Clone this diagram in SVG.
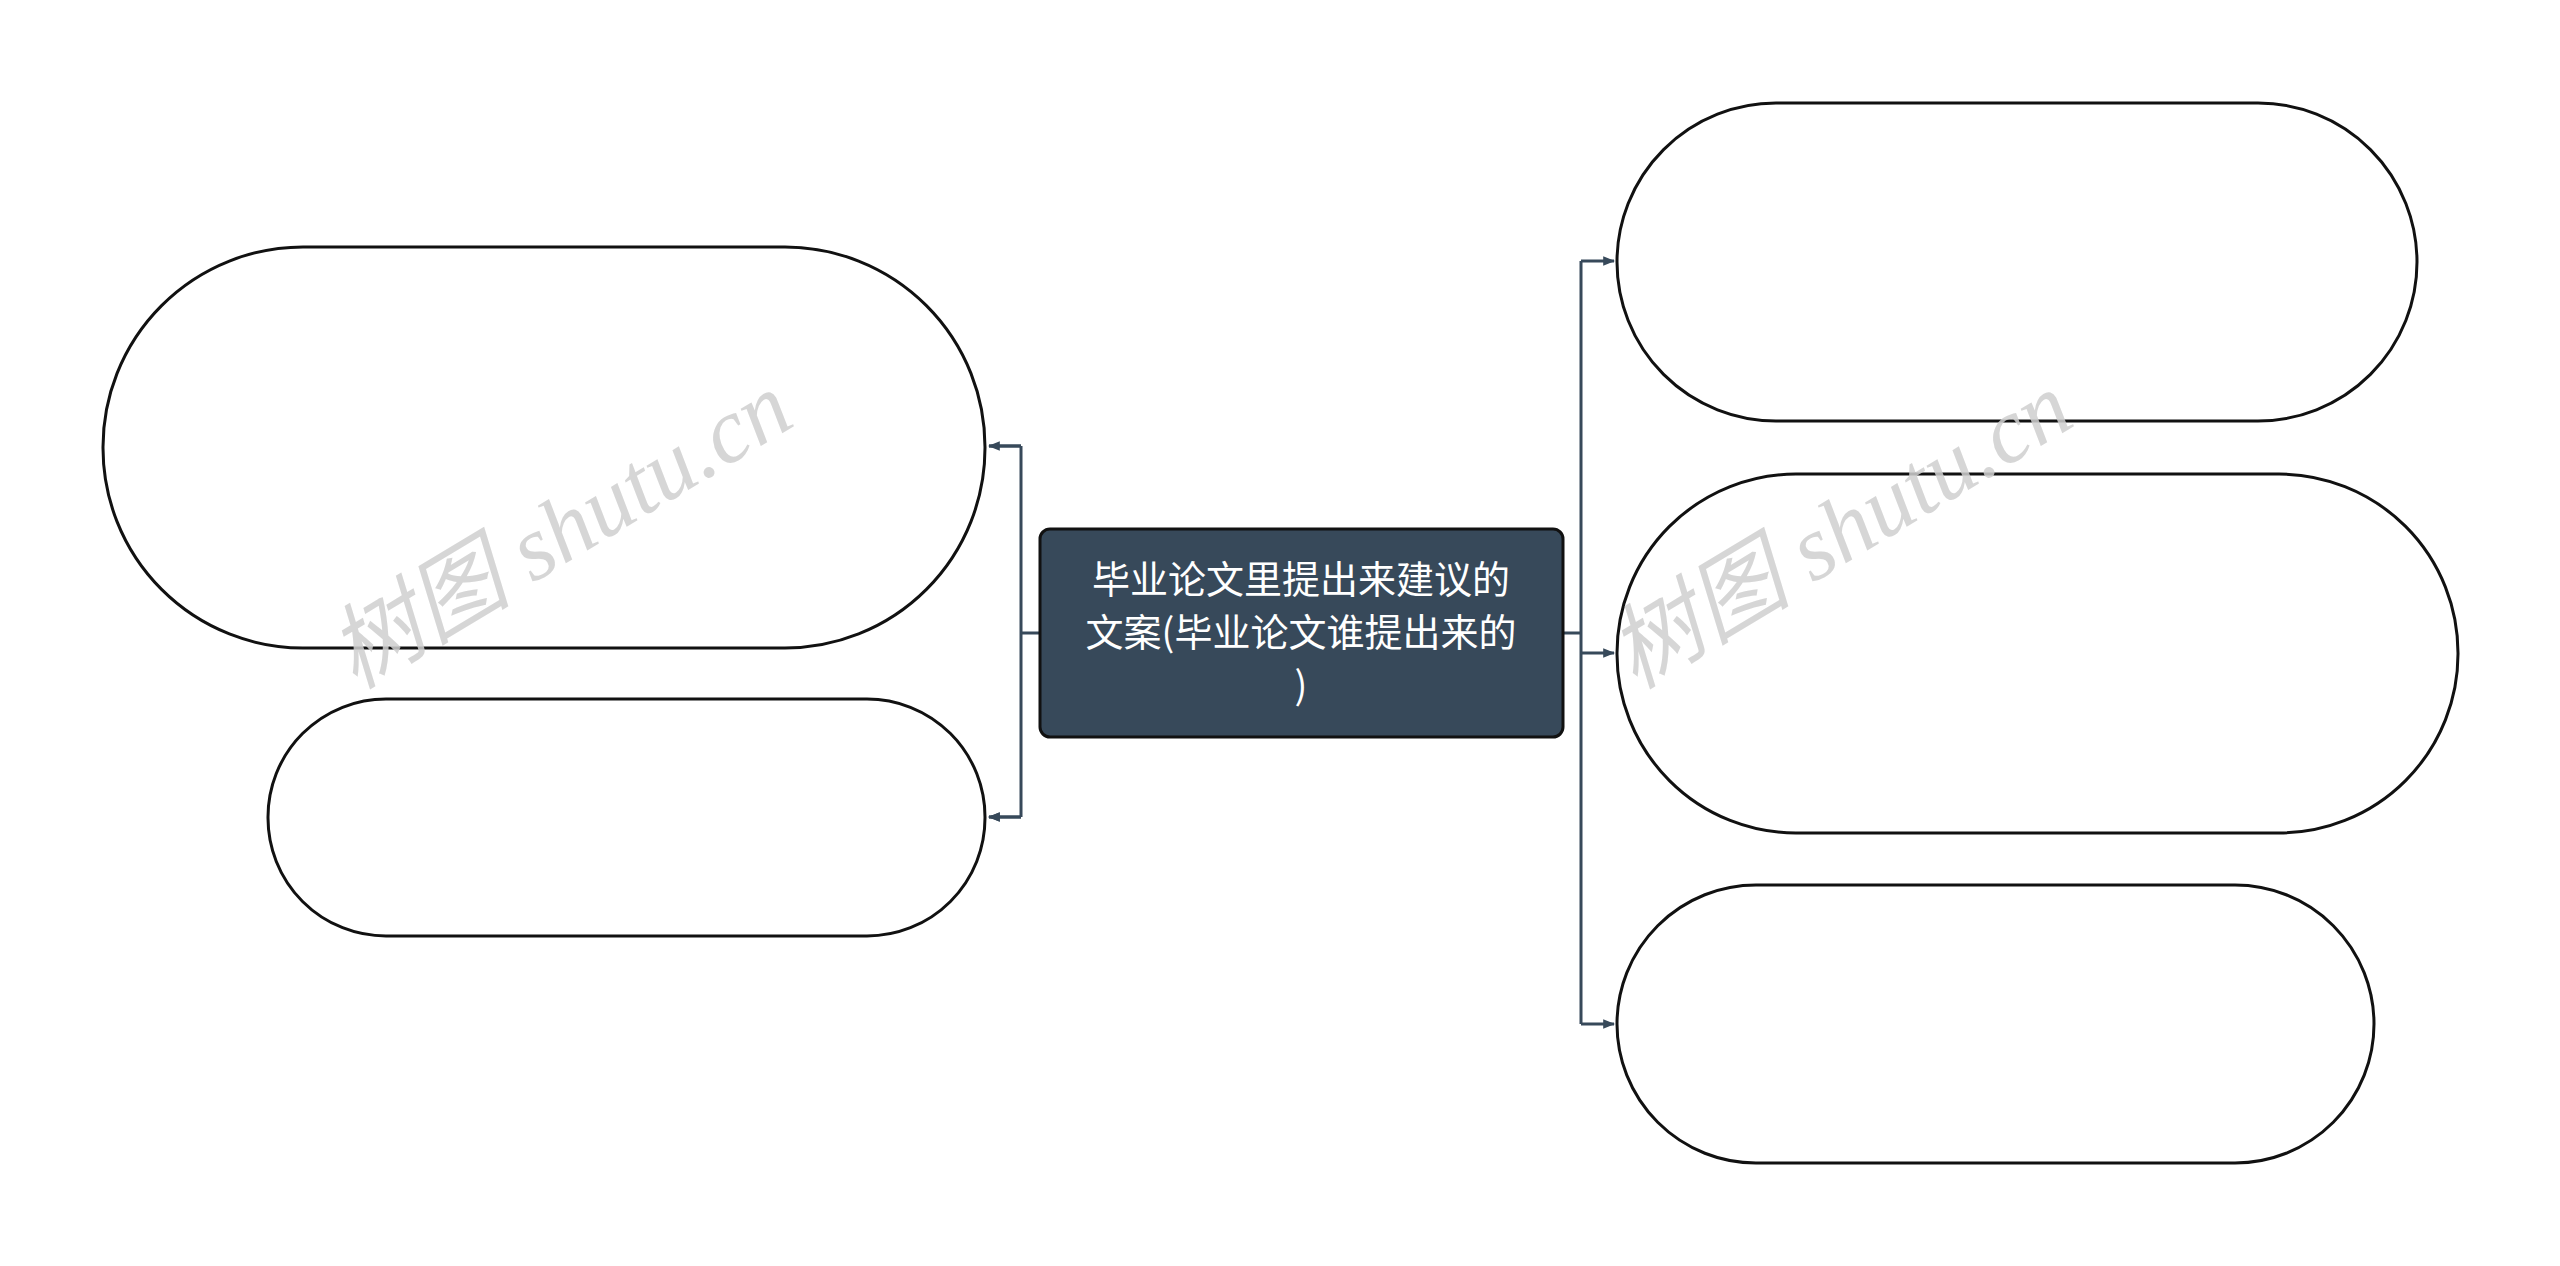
<svg xmlns="http://www.w3.org/2000/svg" width="2560" height="1266" viewBox="0 0 2560 1266">
<style>
.n{fill:#fff;stroke:#111;stroke-width:3}
.c{fill:none;stroke:#37495a;stroke-width:3}
.wm{font-family:"Liberation Serif","Noto Sans CJK SC",serif;font-style:italic;font-size:92px;fill:#d0d0d0;opacity:0.85}
.t{font-family:"Noto Sans CJK SC",sans-serif;font-size:38px;fill:#fff;text-anchor:middle}
</style>
<defs><marker id="a" viewBox="0 0 10 10" refX="9" refY="5" markerWidth="4" markerHeight="4" orient="auto"><path d="M0 1L10 5L0 9z" fill="#37495a"/></marker></defs>
<rect width="2560" height="1266" fill="#fff"/>
<g id="connectors">
<path class="c" d="M1040 633H1021M1021 446V817M1021 446H989M1021 817H989" marker-end="url(#a)"/>
<path class="c" d="M1021 446H989" marker-end="url(#a)"/>
<path class="c" d="M1021 817H989" marker-end="url(#a)"/>
<path class="c" d="M1563 633H1581M1581 261V1024"/>
<path class="c" d="M1581 261H1614" marker-end="url(#a)"/>
<path class="c" d="M1581 653H1614" marker-end="url(#a)"/>
<path class="c" d="M1581 1024H1614" marker-end="url(#a)"/>
</g>
<g id="root"><rect x="1040" y="529" width="523" height="208" rx="10" fill="#37495a" stroke="#111" stroke-width="3"/>
<text class="t" x="1301" y="593">毕业论文里提出来建议的</text>
<text class="t" x="1301" y="646">文案(毕业论文谁提出来的</text>
<text class="t" x="1301" y="699">)</text></g>
<g id="l1"><rect class="n" x="103" y="247" width="882" height="401" rx="200" ry="200"/></g>
<g id="l2"><rect class="n" x="268" y="699" width="717" height="237" rx="118" ry="118"/></g>
<g id="r1"><rect class="n" x="1617" y="103" width="800" height="318" rx="159" ry="159"/></g>
<g id="r2"><rect class="n" x="1617" y="474" width="841" height="359" rx="179" ry="179"/></g>
<g id="r3"><rect class="n" x="1617" y="885" width="757" height="278" rx="139" ry="139"/></g>
<text class="wm" transform="translate(355,690) rotate(-31)">树图 shutu.cn</text>
<text class="wm" transform="translate(1635,690) rotate(-31)">树图 shutu.cn</text>
</svg>
